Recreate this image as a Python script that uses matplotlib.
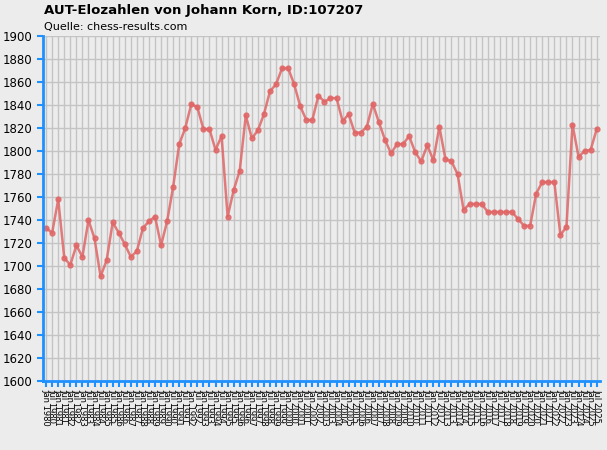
import matplotlib.pyplot as plt

# Elo-Werte (halbjaehrlich)
elo = [1733, 1729, 1758, 1707, 1701, 1718, 1708, 1740, 1724, 1691,
       1705, 1738, 1729, 1719, 1708, 1713, 1733, 1739, 1743, 1718,
       1739, 1769, 1806, 1820, 1841, 1838, 1819, 1819, 1801, 1813,
       1743, 1766, 1783, 1831, 1811, 1818, 1832, 1852, 1858, 1872,
       1872, 1858, 1839, 1827, 1827, 1848, 1843, 1846, 1846, 1826,
       1832, 1816, 1816, 1821, 1841, 1825, 1810, 1798, 1806, 1806,
       1813, 1799, 1791, 1805, 1792, 1821, 1793, 1791, 1780, 1749,
       1754, 1754, 1754, 1747, 1747, 1747, 1747, 1747, 1741, 1735,
       1735, 1763, 1773, 1773, 1773, 1727, 1734, 1823, 1795, 1800,
       1801, 1819]
labels = []
for jahr in range(1980, 2026):
    labels.append(f"Jan {jahr}")
    labels.append(f"Jul {jahr}")

bg = "#ececec"
blau = "#1e90ff"
fig = plt.figure(figsize=(6.07, 4.5), dpi=100, facecolor=bg)
ax = fig.add_axes([0.071, 0.153, 0.917, 0.767], facecolor=bg)

x = list(range(len(elo)))
ax.plot(x, elo, color="#e06666", lw=1.8, marker="o", ms=3.5, alpha=0.85)

ax.set_ylim(1600, 1900)
ax.set_yticks(range(1600, 1901, 20))
ax.set_xlim(-0.5, len(elo) - 0.5)
ax.set_xticks(x)
ax.set_xticklabels(labels, rotation=270, fontsize=6)
ax.tick_params(axis="y", labelsize=8.5, color=blau, length=4, width=1.5)
ax.tick_params(axis="x", color=blau, length=4, width=1.5, pad=2)
ax.grid(True, color="#c4c4c4", lw=1)
ax.set_axisbelow(True)
for s in ["top", "right"]:
    ax.spines[s].set_visible(False)
for s in ["left", "bottom"]:
    ax.spines[s].set_color(blau)
    ax.spines[s].set_linewidth(2)

fig.text(0.073, 0.976, "AUT-Elozahlen von Johann Korn, ID:107207",
         fontsize=9.5, fontweight="bold", va="center")
fig.text(0.073, 0.94, "Quelle: chess-results.com", fontsize=8, va="center")

fig.savefig("out.png", dpi=100, facecolor=bg)
